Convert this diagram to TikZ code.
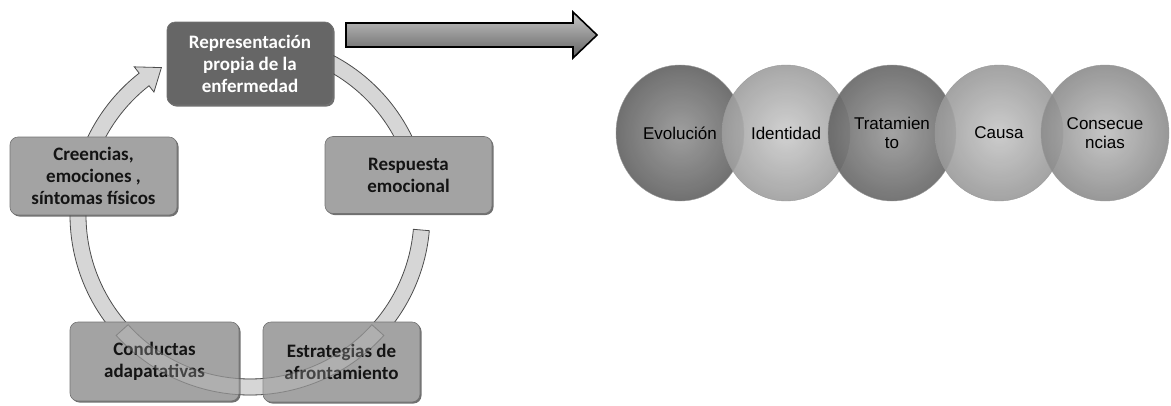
\documentclass[tikz,border=0pt]{standalone}
\usepackage{fontspec}
\setmainfont{Carlito}
\newfontfamily\arialfont{Liberation Sans}
\usetikzlibrary{shadows,shapes.geometric}
\newcommand{\cycArrowSeg}[4][]{%
  \path[cycarrow,#1] (#2:180) arc[start angle=#2, end angle=#3, radius=180]
    -- (#3:188) -- (#4:172) -- (#3:156) -- (#3:164)
    arc[start angle=#3, end angle=#2, radius=164] -- cycle;}
\newcommand{\cycBand}[3][]{%
  \path[cycarrow,#1] (#2:180) arc[start angle=#2, end angle=#3, radius=180]
    -- (#3:164) arc[start angle=#3, end angle=#2, radius=164] -- cycle;}
\tikzset{
  cycarrow/.style={fill=black!16, draw=black!70, line width=0.8pt},
  cbox/.style={rounded corners=8pt, fill=black!36, draw=black!55, line width=0.6pt,
    align=center, text=black!92, inner sep=2pt,
    font=\bfseries\fontsize{19}{22}\selectfont,
    drop shadow={shadow xshift=1.5pt, shadow yshift=-1.5pt, fill=black!70, opacity=0.8}},
  topbox/.style={cbox, fill=black!60, text=white},
  ball/.style={ellipse, draw=black!40, line width=0.4pt, minimum width=128pt, minimum height=136pt,
    fill opacity=0.9, text opacity=1, align=center, text=black,
    font=\arialfont\fontsize{17}{19}\selectfont},
  bigarrow/.style={top color=black!22, bottom color=black!62, draw=black, line width=1.6pt}
}
\begin{document}
\begin{tikzpicture}[x=1pt,y=1pt]
\useasboundingbox (0,0) rectangle (1171,-405);
% cycle arrows
\begin{scope}[shift={(250,-215)}]
  \cycArrowSeg{80}{20}{13}
  \cycArrowSeg{-5}{-52}{-59}
  \cycArrowSeg{-68}{-112}{-119}
  \cycArrowSeg{232}{175}{168}
  \cycArrowSeg{160}{128}{121}
\end{scope}
% bottom boxes
\node[cbox, minimum width=169pt, minimum height=79pt] (con) at (154.5,-361.5) {Conductas\\adapatativas};
\node[cbox, minimum width=157pt, minimum height=80pt] (est) at (341.5,-362) {Estrategias de\\afrontamiento};
% translucent band of the cycle over the bottom boxes
\begin{scope}[shift={(250,-215)}]
  \cycBand[fill opacity=0.25, draw opacity=0.4]{-42}{-138}
\end{scope}
% other boxes
\node[topbox, minimum width=166pt, minimum height=83pt] (rep) at (250,-63.5) {Representación\\propia de la\\enfermedad};
\node[cbox, minimum width=167pt, minimum height=78pt] (cre) at (93.5,-176) {Creencias,\\emociones ,\\síntomas físicos};
\node[cbox, minimum width=167pt, minimum height=77pt] (res) at (408.5,-175) {Respuesta\\emocional};
% big arrow
\path[bigarrow] (346,-23) -- (573,-23) -- (573,-12) -- (597,-35) -- (573,-58) -- (573,-47) -- (346,-47) -- cycle;
% balls
\node[ball, inner color=black!42, outer color=black!62] (evo) at (680,-133) {Evolución};
\node[ball, inner color=black!20, outer color=black!38] (ide) at (786,-133) {Identidad};
\node[ball, inner color=black!40, outer color=black!60] (tra) at (892,-133) {Tratamien\\to};
\node[ball, inner color=black!22, outer color=black!40] (cau) at (999,-133) {Causa};
\node[ball, inner color=black!25, outer color=black!45] (cons) at (1105,-133) {Consecue\\ncias};
\end{tikzpicture}
\end{document}
